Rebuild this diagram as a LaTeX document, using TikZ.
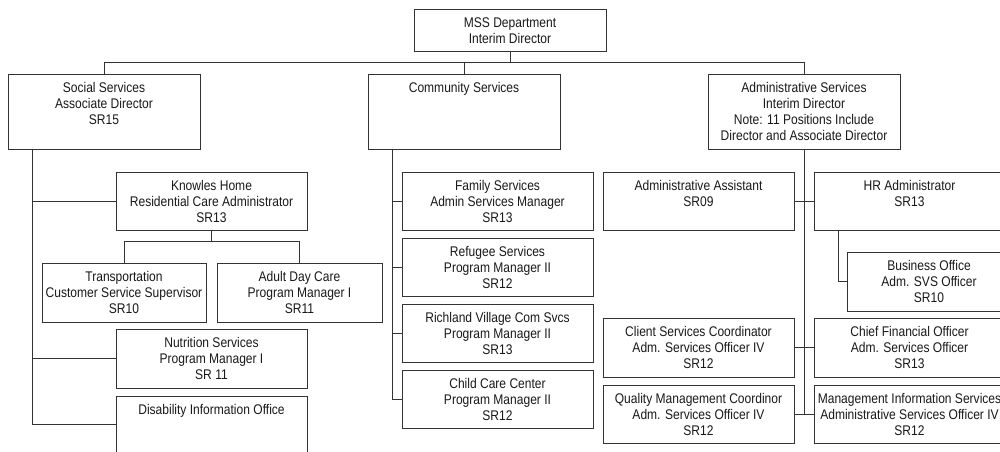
\documentclass[tikz,border=0pt]{standalone}
\usepackage{fontspec}
\setmainfont[FakeStretch=0.86]{Liberation Sans}
\usetikzlibrary{calc}

\tikzset{
  orgbox/.style={draw=black!80, line width=0.75pt, inner sep=0pt, outer sep=0pt, fill=white},
  orgtext/.style={anchor=north, align=center, inner sep=0pt, yshift=-6pt,
    text=black!90, font=\fontsize{10.5}{12}\selectfont},
  link/.style={draw=black!80, line width=0.75pt}
}

% box given by left, top, right, bottom (pixel units), with its text set at the top
\newcommand\orgunit[6]{%
  \pgfmathsetmacro\bw{(#4-#2)*0.75}%
  \pgfmathsetmacro\bh{(#5-#3)*0.75}%
  \node[orgbox, minimum width=\bw pt, minimum height=\bh pt] (#1) at ({(#2+#4)/2},{(#3+#5)/2}) {};
  \node[orgtext] (#1-t) at (#1.north) {#6};
}

\begin{document}
\begin{tikzpicture}[x=0.75pt, y=-0.75pt]
\useasboundingbox (0,0) rectangle (1000,451);
\clip (0,0) rectangle (1000,451);
\fill[white] (0,0) rectangle (1000,451);

% top level
\orgunit{mss}{414}{9}{606}{51}{MSS Department\\Interim Director}
\orgunit{ss}{8}{74}{200}{149}{Social Services\\Associate Director\\SR15}
\orgunit{com}{368}{74}{560}{149}{Community Services}
\orgunit{adm}{708}{74}{900}{149}{Administrative Services\\Interim Director\\Note: 11 Positions Include\\Director and Associate Director}

% social services
\orgunit{kh}{116}{172}{307}{230}{Knowles Home\\Residential Care Administrator\\SR13}
\orgunit{tr}{42}{263}{206}{322}{Transportation\\Customer Service Supervisor\\SR10}
\orgunit{adc}{217}{263}{382}{322}{Adult Day Care\\Program Manager I\\SR11}
\orgunit{nut}{116}{329}{307}{388}{Nutrition Services\\Program Manager I\\SR 11}
\orgunit{dis}{116}{396}{307}{452}{Disability Information Office}

% community services
\orgunit{fam}{402}{172}{593}{230}{Family Services\\Admin Services Manager\\SR13}
\orgunit{ref}{402}{238}{593}{296}{Refugee Services\\Program Manager II\\SR12}
\orgunit{ric}{402}{304}{593}{362}{Richland Village Com Svcs\\Program Manager II\\SR13}
\orgunit{cc}{402}{370}{593}{428}{Child Care Center\\Program Manager II\\SR12}

% administrative services
\orgunit{aa}{603}{172}{794}{230}{Administrative Assistant\\SR09}
\orgunit{hr}{814}{172}{1005}{230}{HR Administrator\\SR13}
\orgunit{bo}{847}{252}{1011}{311}{Business Office\\Adm. SVS Officer\\SR10}
\orgunit{cs}{603}{318}{794}{377}{Client Services Coordinator\\Adm. Services Officer IV\\SR12}
\orgunit{cfo}{814}{318}{1005}{377}{Chief Financial Officer\\Adm. Services Officer\\SR13}
\orgunit{qm}{603}{385}{794}{443}{Quality Management Coordinor\\Adm. Services Officer IV\\SR12}
\orgunit{mis}{814}{385}{1005}{443}{Management Information Services\\Administrative Services Officer IV\\SR12}

% connectors: top level
\draw[link] (mss.south) -- ++(0,11);
\draw[link] (ss.north) -- ++(0,-12) -| (adm.north);
\draw[link] (com.north) -- ++(0,-12);

% connectors: social services
\draw[link] ([xshift=18pt]ss.south west) |- (dis.west);
\draw[link] ([xshift=18pt]ss.south west) |- (kh.west);
\draw[link] ([xshift=18pt]ss.south west) |- (nut.west);
\draw[link] (kh.south) -- ++(0,11) -| (tr.north);
\draw[link] (kh.south) -- ++(0,11) -| (adc.north);

% connectors: community services
\draw[link] ([xshift=18pt]com.south west) |- (cc.west);
\draw[link] ([xshift=18pt]com.south west) |- (fam.west);
\draw[link] ([xshift=18pt]com.south west) |- (ref.west);
\draw[link] ([xshift=18pt]com.south west) |- (ric.west);

% connectors: administrative services
\draw[link] (adm.south) -- (adm.south |- qm.east);
\draw[link] (aa.east) -- (hr.west);
\draw[link] (cs.east) -- (cfo.west);
\draw[link] (qm.east) -- (mis.west);
\draw[link] ([xshift=18pt]hr.south west) |- (bo.west);
\end{tikzpicture}
\end{document}
